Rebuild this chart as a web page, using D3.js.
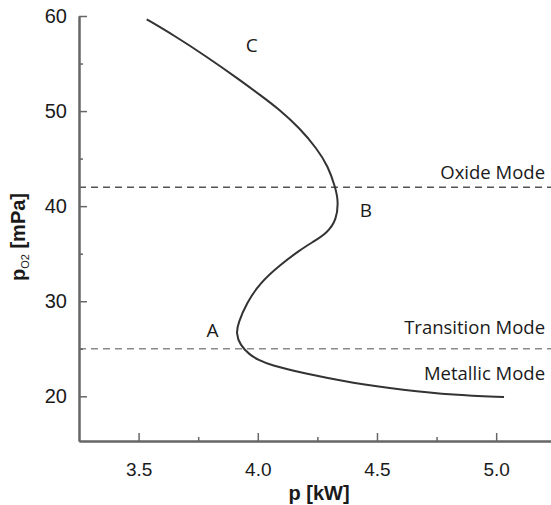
<!DOCTYPE html>
<html>
<head>
<meta charset="utf-8">
<script src="https://cdn.jsdelivr.net/npm/d3@7"></script>
<style>
    body { margin:0; background:#fff; }
    text { fill:#1a1a1a; }
</style>
</head>
<body>
<svg id="graph"></svg>
<script>
// curve: power p [kW] vs oxygen partial pressure [mPa]
let power = [3.534,3.646,3.786,3.925,4.009,4.093,4.176,4.247,4.296,4.324,4.338,4.331,4.289,4.233,4.177,4.093,4.009,3.953,3.918,3.909,3.925,3.967,4.002,4.051,4.191,4.401,4.610,4.820,5.033]
let po2 = [59.65,58.00,55.72,53.27,51.71,50.12,48.19,46.09,44.15,42.05,40.65,38.55,37.15,36.26,35.39,33.81,31.92,29.81,27.71,26.66,25.40,24.35,23.82,23.30,22.42,21.37,20.67,20.14,19.93]

let xticks = [3.5,4.0,4.5,5.0]
let xminor = [3.75,4.25,4.75]
let yticks = [20,30,40,50,60]
let yminor = [25,35,45,55]

// mode boundaries
let levels = [42,25]
let modes = ["Oxide Mode","Transition Mode","Metallic Mode"]
let modeY = [42.9,26.6,21.7]
let points = ["A","B","C"]
let pointX = [3.81,4.454,3.975]
let pointY = [26.2,38.86,56.2]

let w = 551;
let h = 505;
let leftmargin = 79;
let topmargin = 16;
let downmargin = 64;

let xscale = d3.scaleLinear()
    .domain([3.25,5.23])
    .range([leftmargin,w])

let yscale = d3.scaleLinear()
    .domain([15.3,60])
    .range([h-downmargin,topmargin])

let graph = d3.select("#graph")
    .attr("width",w)
    .attr("height",h)

// dashed mode lines
graph.selectAll(".level")
    .data(levels)
    .enter().append("line")
    .attr("x1",xscale(3.25)).attr("x2",w)
    .attr("y1",d=>yscale(d)).attr("y2",d=>yscale(d))
    .attr("stroke",(d,i)=>i==0?"#555":"#8a8a8a")
    .attr("stroke-width",1.5)
    .attr("stroke-dasharray","7,5")

// axes
let yaxis = d3.axisLeft(yscale).tickValues(yticks).tickSize(-8).tickSizeOuter(0).tickPadding(12).tickFormat(d3.format("d"))
let yaxisg = graph.append("g")
    .attr("transform",`translate(${leftmargin},0)`)
    .call(yaxis)
graph.append("g")
    .attr("transform",`translate(${leftmargin},0)`)
    .call(d3.axisLeft(yscale).tickValues(yminor).tickSize(-4).tickSizeOuter(0).tickFormat(""))

let xaxis = d3.axisBottom(xscale).tickValues(xticks).tickSize(-8).tickSizeOuter(0).tickPadding(22).tickFormat(d3.format(".1f"))
let xaxisg = graph.append("g")
    .attr("transform",`translate(0,${h-downmargin})`)
    .call(xaxis)
graph.append("g")
    .attr("transform",`translate(0,${h-downmargin})`)
    .call(d3.axisBottom(xscale).tickValues(xminor).tickSize(-4).tickSizeOuter(0).tickFormat(""))

graph.selectAll(".domain").attr("stroke","#666").attr("stroke-width",2)
graph.selectAll(".tick line").attr("stroke","#666").attr("stroke-width",1.5)
graph.selectAll(".tick text")
    .style("font-family","'Liberation Sans', Arial, sans-serif")
    .attr("fill","#1a1a1a")
yaxisg.selectAll(".tick text").style("font-size","20px")
xaxisg.selectAll(".tick text").style("font-size","19px")

// curve
let line = d3.line()
    .x(d=>xscale(d[0]))
    .y(d=>yscale(d[1]))
    .curve(d3.curveBasis)

graph.append("path")
    .datum(power.map((p,i)=>[p,po2[i]]))
    .attr("d",line)
    .attr("fill","none")
    .attr("stroke","#333")
    .attr("stroke-width",2)

// mode labels
graph.selectAll(".mode")
    .data(modes)
    .enter().append("text")
    .text(d=>d)
    .attr("x",xscale(5.205))
    .attr("y",(d,i)=>yscale(modeY[i]))
    .attr("text-anchor","end")
    .style("font-family","'Open Sans', sans-serif")
    .style("font-size","18.5px")

graph.selectAll(".pt")
    .data(points)
    .enter().append("text")
    .text(d=>d)
    .attr("x",(d,i)=>xscale(pointX[i]))
    .attr("y",(d,i)=>yscale(pointY[i]))
    .attr("text-anchor","middle")
    .style("font-family","'Open Sans', sans-serif")
    .style("font-size","19px")

// axis titles
graph.append("text")
    .text("p [kW]")
    .attr("x",319)
    .attr("y",500)
    .attr("text-anchor","middle")
    .style("font-family","'Liberation Sans', Arial, sans-serif")
    .style("font-weight","bold")
    .style("font-size","20px")

let ytitle = graph.append("text")
    .attr("transform","translate(25,237) rotate(-90)")
    .attr("text-anchor","middle")
    .style("font-family","'Liberation Sans', Arial, sans-serif")
    .style("font-weight","bold")
    .style("font-size","20px")
ytitle.append("tspan").text("p")
ytitle.append("tspan").text("O2").style("font-size","11px").style("font-weight","normal").attr("dy",4)
ytitle.append("tspan").text(" [mPa]").attr("dy",-4)
</script>
</body>
</html>
